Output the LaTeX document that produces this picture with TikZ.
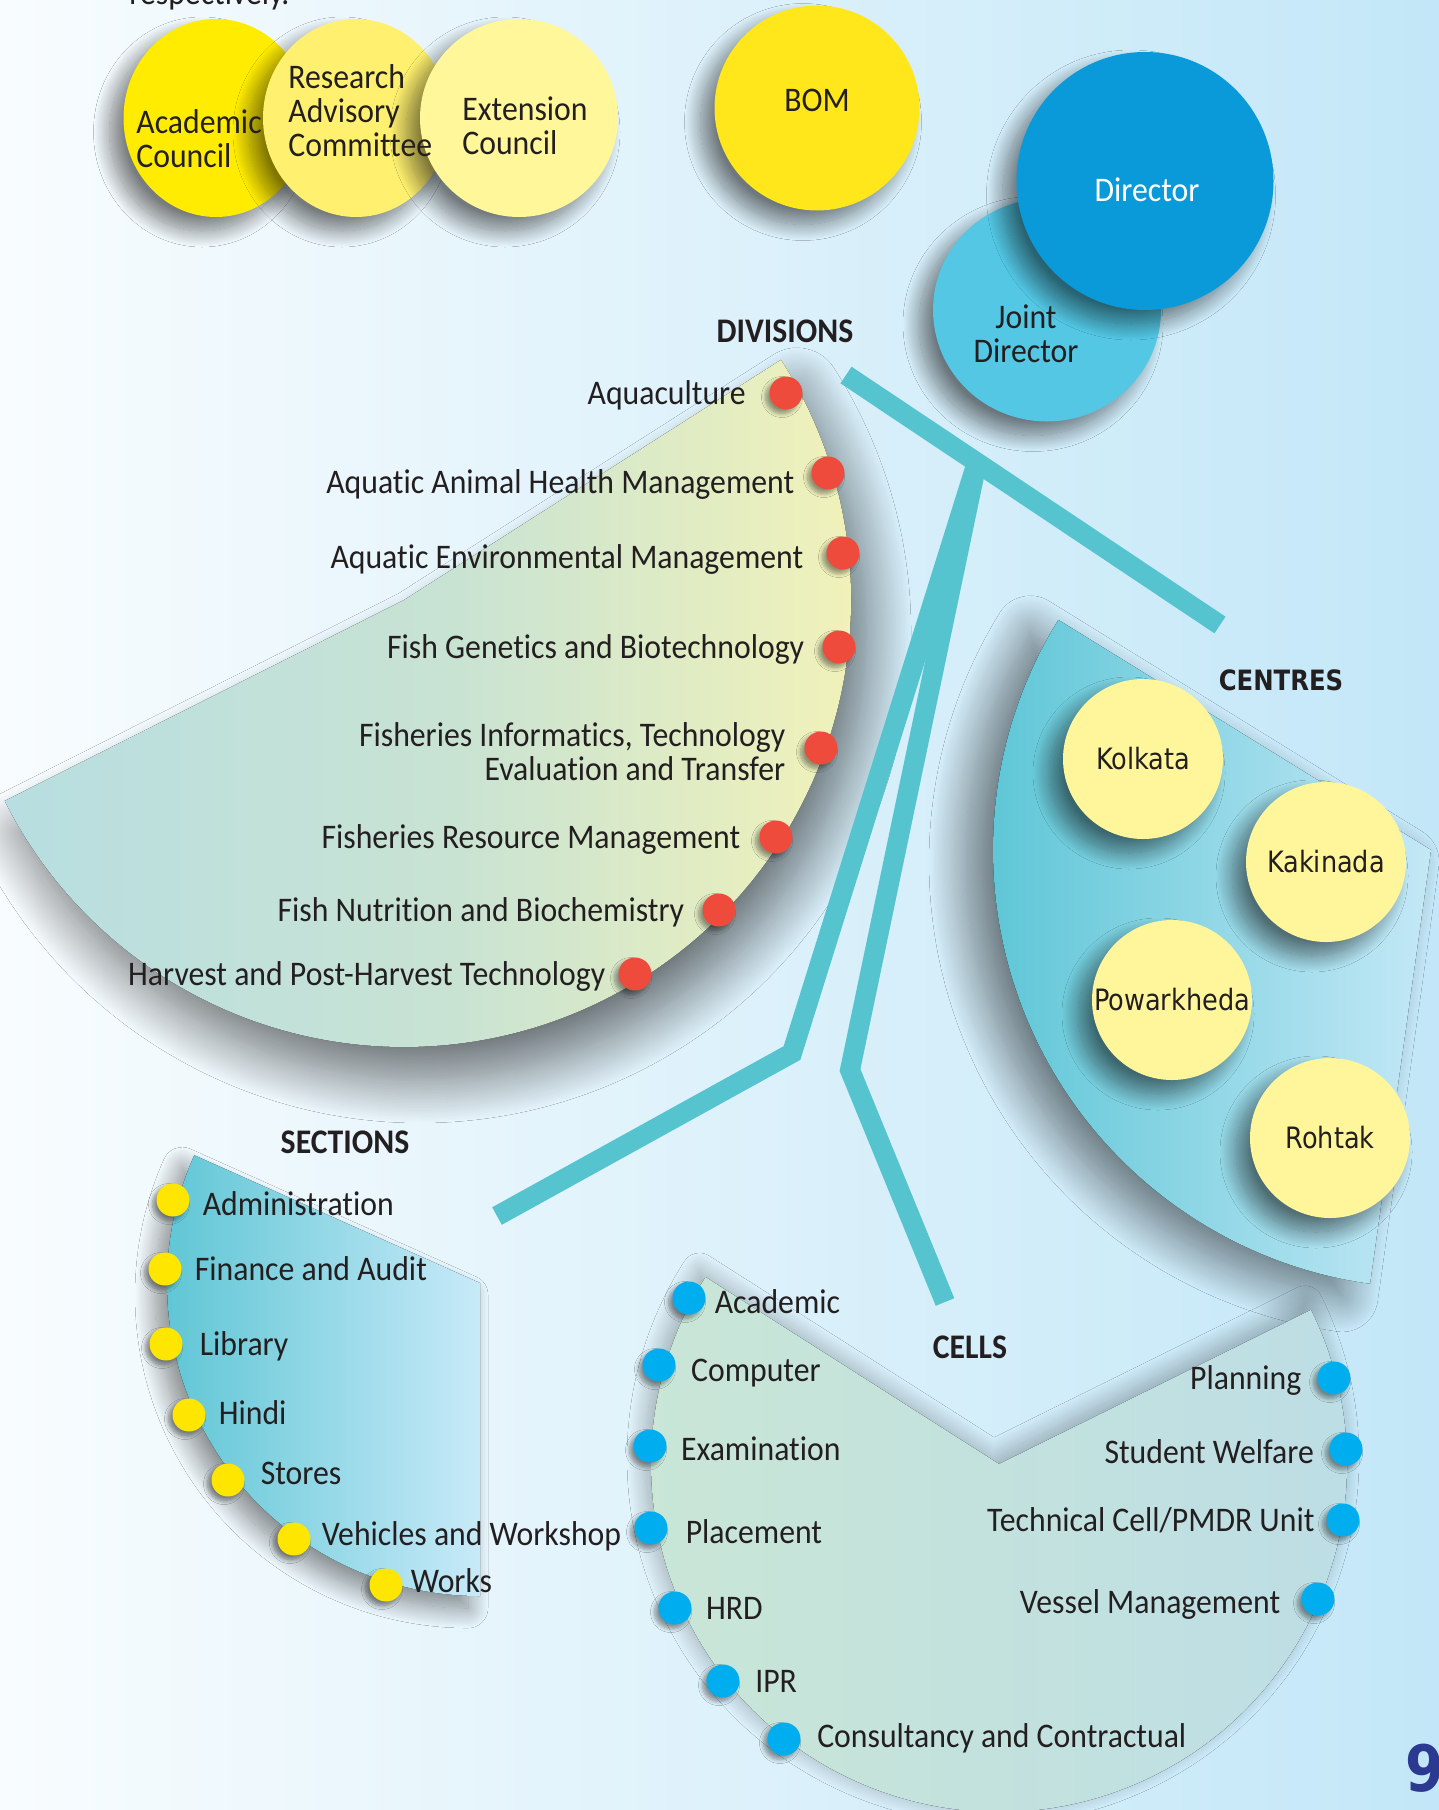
\documentclass[tikz,border=0pt]{standalone}
\usepackage{fontspec}
\setmainfont[FakeStretch=0.92, Ligatures={NoCommon,NoContextual}]{Carlito}
\newfontfamily\widefont[FakeStretch=0.87]{DejaVu Sans}
\usetikzlibrary{positioning,shapes.geometric,shadows.blur}

\definecolor{ink}{HTML}{231F20}
\definecolor{bgleft}{HTML}{F8FCFE}
\definecolor{bgright}{HTML}{C3E7F8}
\definecolor{yellowA}{HTML}{FFEC00}
\definecolor{yellowB}{HTML}{FFF16F}
\definecolor{yellowC}{HTML}{FFF799}
\definecolor{bomyellow}{HTML}{FFE71B}
\definecolor{dirblue}{HTML}{0A9AD9}
\definecolor{jdirblue}{HTML}{53C7E4}
\definecolor{centreyellow}{HTML}{FFF69C}
\definecolor{linkteal}{HTML}{55C4CF}
\definecolor{divteal}{HTML}{B8DEE1}
\definecolor{divmid}{HTML}{C9E3D3}
\definecolor{divyellow}{HTML}{F7F4B5}
\definecolor{centeal}{HTML}{5AC5D5}
\definecolor{cenlight}{HTML}{C4E8F6}
\definecolor{secteal}{HTML}{5AC4D3}
\definecolor{seclight}{HTML}{C8EAF8}
\definecolor{cellgreen}{HTML}{C9E6D6}
\definecolor{cellblue}{HTML}{BCDDE6}
\definecolor{dotred}{HTML}{EF4B3C}
\definecolor{dotyellow}{HTML}{FFE600}
\definecolor{dotblue}{HTML}{00AEEF}
\definecolor{pagenum}{HTML}{2B3990}

\newcommand{\lblfont}{\fontsize{17.25}{17}\selectfont}
\newcommand{\cenfont}{\widefont\fontsize{14.7}{16}\selectfont}

\tikzset{
	lbl/.style={font=\lblfont, text=ink, inner sep=0pt, text height=11.4pt, text depth=0pt},
	multilbl/.style={font=\lblfont, text=ink, inner sep=0pt},
	heading/.style={lbl, font=\lblfont\bfseries},
	bigshadow/.style={blur shadow={shadow xshift=-7pt, shadow yshift=-7pt, shadow blur radius=8pt, shadow blur steps=24, shadow opacity=50}},
	dotshadow/.style={blur shadow={shadow xshift=-2pt, shadow yshift=-2pt, shadow blur radius=2pt, shadow blur steps=8, shadow opacity=40}},
	board/.style={ellipse, inner sep=0pt, bigshadow},
	dotbase/.style={circle, inner sep=0pt, minimum size=16.5pt, dotshadow},
	divdot/.style={dotbase, fill=dotred},
	secdot/.style={dotbase, fill=dotyellow},
	celldot/.style={dotbase, fill=dotblue},
	centre/.style={circle, fill=centreyellow, minimum size=80pt, inner sep=0pt, font=\cenfont, text=ink, bigshadow},
	linkline/.style={draw=linkteal, line width=10pt},
}

\begin{document}
\begin{tikzpicture}[x=0.5pt, y=-0.5pt]
	\useasboundingbox (0,0) rectangle (1439,1810);
	\fill [left color=bgleft, right color=bgright] (0,0) rectangle (1439,1810);
	\node [lbl, anchor=base west] (resp) at (129,4) {respectively.};

	%Fans
	\fill [left color=divteal, right color=divyellow, middle color=divmid, blur shadow={shadow xshift=8pt, shadow yshift=-16pt, shadow blur radius=22pt, shadow blur steps=30, shadow opacity=55}] (404,600) -- ++(-32.5:447) arc [start angle=-32.5, end angle=153.3, radius=447] -- cycle;
	\fill [left color=centeal, right color=cenlight, blur shadow={shadow xshift=-14pt, shadow yshift=-6pt, shadow blur radius=18pt, shadow blur steps=30, shadow opacity=50}] (1431,850) -- ++(211.7:438) arc [start angle=211.7, end angle=98, radius=438] -- cycle;
	\fill [left color=secteal, right color=seclight, blur shadow={shadow xshift=-6pt, shadow yshift=-6pt, shadow blur radius=10pt, shadow blur steps=24, shadow opacity=45}] (480,1283) -- ++(204.1:313) arc [start angle=204.1, end angle=90, radius=313] -- cycle;
	\fill [left color=cellgreen, right color=cellblue, blur shadow={shadow xshift=-3pt, shadow yshift=3pt, shadow blur radius=9pt, shadow blur steps=24, shadow opacity=30}] (999,1464) -- ++(-26.3:348) arc [start angle=-26.3, end angle=212.5, radius=348] -- cycle;

	%Connectors
	\coordinate (hub) at (977,462);
	\coordinate (divend) at (846,375);
	\coordinate (cenend) at (1220,625);
	\coordinate (secbend) at (792,1053);
	\coordinate (secend) at (497,1216);
	\coordinate (cellbend) at (850,1070);
	\coordinate (cellend) at (945,1302);
	\draw [linkline] (divend) -- (cenend);
	\draw [linkline] (hub) -- (secbend) -- (secend);
	\draw [linkline] (hub) -- (cellbend) -- (cellend);

	%Councils
	\node [board, fill=yellowA, minimum width=92.5pt, minimum height=99pt] (acad) at (216,118) {};
	\node [board, fill=yellowB, minimum width=93pt, minimum height=99pt] (rac) at (356,118) {};
	\node [board, fill=yellowC, minimum width=99pt, minimum height=99pt] (ext) at (519,118) {};
	\node [multilbl, align=left, anchor=west] (acadtxt) at (136,139) {Academic\\Council};
	\node [multilbl, align=left, anchor=west] (ractxt) at (288,111) {Research\\Advisory\\Committee};
	\node [multilbl, align=left, anchor=west] (exttxt) at (462,126) {Extension\\Council};
	\node [board, fill=bomyellow, minimum size=102.5pt] (bom) at (817,108) {};
	\node [lbl] (bomtxt) at (817,100) {BOM};

	%Directors
	\node [board, fill=jdirblue, minimum width=114pt, minimum height=111.5pt] (jdir) at (1047,310) {};
	\node [board, fill=dirblue, minimum width=128.5pt, minimum height=129pt] (dir) at (1145,181) {};
	\node [lbl, text=white] (dirtxt) at (1147,190) {Director};
	\node [multilbl, align=center] (jdirtxt) at (1026,334) {Joint\\Director};

	%Divisions
	\node [heading] (divhead) at (785,331) {DIVISIONS};
	\node [divdot] (aqua) at (786,393) {};
	\node [divdot] (aahm) at (828,473) {};
	\node [divdot] (aem) at (843,553) {};
	\node [divdot] (fgb) at (839,647) {};
	\node [divdot] (fitet) at (821,748) {};
	\node [divdot] (frm) at (776,837) {};
	\node [divdot] (fnb) at (719,910) {};
	\node [divdot] (hpht) at (635,974) {};
	\node [lbl, left=11.5pt of aqua] (aquatxt) {Aquaculture};
	\node [lbl, left=8.25pt of aahm, yshift=-4.5pt] (aahmtxt) {Aquatic Animal Health Management};
	\node [lbl, left=11.25pt of aem, yshift=-2pt] (aemtxt) {Aquatic Environmental Management};
	\node [lbl, left=8.75pt of fgb] (fgbtxt) {Fish Genetics and Biotechnology};
	\node [multilbl, align=right, left=9.25pt of fitet, yshift=-2pt] (fitettxt) {Fisheries Informatics, Technology\\Evaluation and Transfer};
	\node [lbl, left=9.25pt of frm] (frmtxt) {Fisheries Resource Management};
	\node [lbl, left=8.75pt of fnb] (fnbtxt) {Fish Nutrition and Biochemistry};
	\node [lbl, left=6.25pt of hpht] (hphttxt) {Harvest and Post-Harvest Technology};

	%Centres
	\node [font=\widefont\bfseries\fontsize{14}{16}\selectfont, text=ink, inner sep=0pt] (centhead) at (1281,680) {CENTRES};
	\node [centre] (kolkata) at (1143,759) {Kolkata};
	\node [centre] (kakinada) at (1326,862) {Kakinada};
	\node [centre] (powarkheda) at (1172,1000) {Powarkheda};
	\node [centre] (rohtak) at (1330,1138) {Rohtak};

	%Sections
	\node [heading] (sechead) at (345,1142) {SECTIONS};
	\node [secdot] (admin) at (173,1200) {};
	\node [secdot] (fin) at (165,1269) {};
	\node [secdot] (lib) at (166,1344) {};
	\node [secdot] (hindi) at (189,1415) {};
	\node [secdot] (stores) at (228,1480) {};
	\node [secdot] (veh) at (294,1539) {};
	\node [secdot] (works) at (386,1585) {};
	\node [lbl, right=6.25pt of admin, yshift=-2pt] (admintxt) {Administration};
	\node [lbl, right=6.25pt of fin] (fintxt) {Finance and Audit};
	\node [lbl, right=8.25pt of lib] (libtxt) {Library};
	\node [lbl, right=6.25pt of hindi, yshift=1pt] (hinditxt) {Hindi};
	\node [lbl, right=7.75pt of stores, yshift=3.5pt] (storestxt) {Stores};
	\node [lbl, right=5.25pt of veh, yshift=2.3pt] (vehtxt) {Vehicles and Workshop};
	\node [lbl, right=3.75pt of works, yshift=2pt] (workstxt) {Works};

	%Cells
	\node [heading] (cellhead) at (970,1347) {CELLS};
	\node [celldot] (acadc) at (689,1298) {};
	\node [celldot] (comp) at (659,1365) {};
	\node [celldot] (exam) at (650,1446) {};
	\node [celldot] (place) at (651,1528) {};
	\node [celldot] (hrd) at (675,1608) {};
	\node [celldot] (ipr) at (723,1681) {};
	\node [celldot] (cons) at (784,1739) {};
	\node [celldot] (plan) at (1334,1378) {};
	\node [celldot] (stud) at (1346,1449) {};
	\node [celldot] (tech) at (1343,1520) {};
	\node [celldot] (vessel) at (1318,1599) {};
	\node [lbl, right=4.25pt of acadc, yshift=-2pt] (acadctxt) {Academic};
	\node [lbl, right=7.4pt of comp, yshift=-2.5pt] (comptxt) {Computer};
	\node [lbl, right=6.9pt of exam, yshift=-1.5pt] (examtxt) {Examination};
	\node [lbl, right=8.75pt of place, yshift=-2pt] (placetxt) {Placement};
	\node [lbl, right=6.9pt of hrd] (hrdtxt) {HRD};
	\node [lbl, right=7.5pt of ipr] (iprtxt) {IPR};
	\node [lbl, right=8pt of cons, yshift=1.5pt] (constxt) {Consultancy and Contractual};
	\node [lbl, left=7.7pt of plan] (plantxt) {Planning};
	\node [lbl, left=7.4pt of stud, yshift=-1.5pt] (studtxt) {Student Welfare};
	\node [lbl, left=5.6pt of tech] (techtxt) {Technical Cell/PMDR Unit};
	\node [lbl, left=10.3pt of vessel, yshift=-1.5pt] (vesseltxt) {Vessel Management};

	\node [font=\widefont\bfseries\fontsize{32}{36}\selectfont, text=pagenum, inner sep=0pt, anchor=west] (pageno) at (1405,1768) {9};
\end{tikzpicture}
\end{document}
